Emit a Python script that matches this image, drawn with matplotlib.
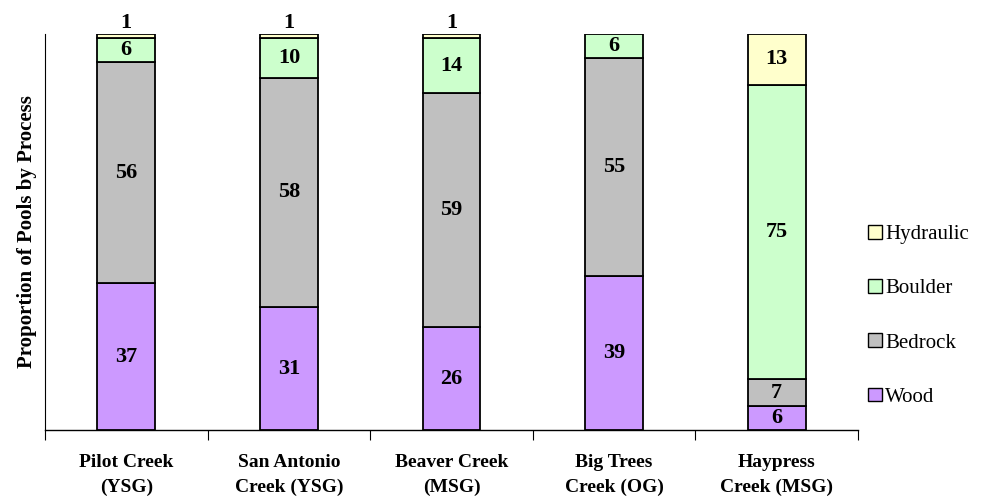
import matplotlib
matplotlib.use("Agg")
import matplotlib.pyplot as plt
import numpy as np
from matplotlib.patches import Patch

categories = ["Pilot Creek\n(YSG)", "San Antonio\nCreek (YSG)", "Beaver Creek\n(MSG)",
              "Big Trees\nCreek (OG)", "Haypress\nCreek (MSG)"]
series_names = ["Wood", "Bedrock", "Boulder", "Hydraulic"]
wood = [37, 31, 26, 39, 6]
bedrock = [56, 58, 59, 55, 7]
boulder = [6, 10, 14, 6, 75]
hydraulic = [1, 1, 1, 0, 13]
colors = ["#CC99FF", "#C0C0C0", "#CCFFCC", "#FFFFCC"]

serif = ["Liberation Serif", "DejaVu Serif"]
plt.rcParams['font.family'] = serif

data = np.array([wood, bedrock, boulder, hydraulic], dtype=float)
totals = data.sum(axis=0)
pct = data / totals * 100

fig = plt.figure(figsize=(9.9, 4.98), dpi=100)
ax = fig.add_axes([45/990, 1-430/498, (858-45)/990, (430-34)/498])

x = np.arange(len(categories))
bottom = np.zeros(len(categories))
for i, name in enumerate(series_names):
    h = pct[i]
    mask = data[i] > 0
    ax.bar(x[mask], h[mask], bottom=bottom[mask], width=0.356, color=colors[i],
           edgecolor="black", linewidth=1.3, zorder=3)
    for j in range(len(categories)):
        if data[i, j] <= 0:
            continue
        if data[i, j] < 3:
            ax.text(x[j], bottom[j] + h[j] + 0.2, f"{int(data[i, j])}", ha="center",
                    va="bottom", fontsize=16, fontweight="bold", clip_on=False)
        else:
            ax.text(x[j], bottom[j] + h[j] / 2, f"{int(data[i, j])}", ha="center",
                    va="center", fontsize=16, fontweight="bold")
    bottom += h

ax.set_xlim(-0.5, len(categories) - 0.5)
ax.set_ylim(0, 100)
for s in ["top", "right"]:
    ax.spines[s].set_visible(False)
ax.spines["left"].set_linewidth(0.8)
ax.spines["bottom"].set_linewidth(1.0)
ax.set_yticks([])
ax.set_xticks(np.arange(len(categories) + 1) - 0.5)
ax.set_xticklabels([])
ax.tick_params(axis="x", direction="out", length=7, width=0.8)
ax.set_xticks(x, minor=True)
ax.set_xticklabels(categories, minor=True, fontsize=14, fontweight="bold", linespacing=1.6)
ax.tick_params(axis="x", which="minor", length=0, pad=17)
ax.set_ylabel("Proportion of Pools by Process", fontsize=15, fontweight="bold", labelpad=6)

handles = [Patch(facecolor=colors[i], edgecolor="black", linewidth=1.0) for i in range(4)][::-1]
fig.legend(handles, series_names[::-1], loc="center left", bbox_to_anchor=(0.877, 0.366),
           frameon=False, fontsize=15, handlelength=0.65, handleheight=0.65,
           handletextpad=0.15, labelspacing=1.68, borderpad=0, borderaxespad=0)

fig.savefig("out.png", dpi=100)
